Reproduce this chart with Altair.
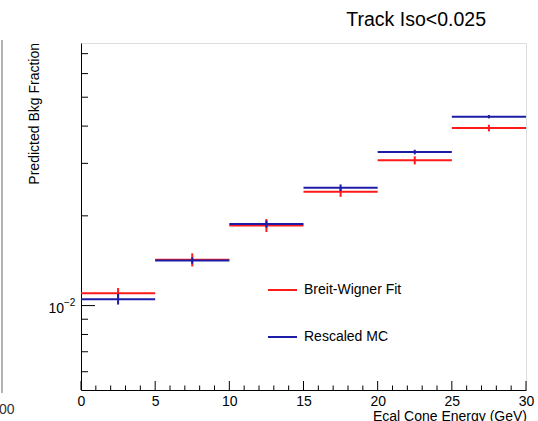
import altair as alt
import pandas as pd

# ---- data ----
bin_low = [0, 5, 10, 15, 20, 25]
bin_high = [5, 10, 15, 20, 25, 30]
bin_center = [2.5, 7.5, 12.5, 17.5, 22.5, 27.5]
bw_fit = [0.01099, 0.01425, 0.01858, 0.02409, 0.03071, 0.03941]
bw_err = [0.00046, 0.00072, 0.00093, 0.00094, 0.00096, 0.00101]
mc_val = [0.01051, 0.01416, 0.01877, 0.02485, 0.03274, 0.04301]
mc_err = [0.00043, 0.00035, 0.00051, 0.00064, 0.00058, 0.00056]
series_names = ["Breit-Wigner Fit", "Rescaled MC"]
series_colors = ["#ff1a1a", "#1c1ca6"]

x_major = [0, 5, 10, 15, 20, 25, 30]
x_minor = [1, 2, 3, 4, 6, 7, 8, 9, 11, 12, 13, 14, 16, 17, 18, 19,
           21, 22, 23, 24, 26, 27, 28, 29]
y_major = [0.01]
y_minor = [0.006, 0.007, 0.008, 0.009, 0.02, 0.03, 0.04, 0.05, 0.06, 0.07]
y_label_base = "10"
y_label_exp = "−2"
title_text = "Track Iso<0.025"
x_title = "Ecal Cone Energy (GeV)"
y_title = "Predicted Bkg Fraction"

W, H = 445, 347
FONT = "Liberation Sans"

x_scale = alt.Scale(domain=[0, 30], nice=False, zero=False)
y_scale = alt.Scale(type="log", domain=[0.00521, 0.0760], nice=False)
x_axis = alt.Axis(values=x_major, ticks=False, grid=False, title=None,
                  labelFontSize=14, labelFont=FONT, labelColor="black",
                  labelPadding=4, domainColor="black", labelFlush=False,
                  labelOverlap=False)
y_axis = alt.Axis(values=y_major, ticks=False, grid=False, title=None,
                  labels=False, domainColor="black")


def series_df(vals, errs, name):
    return pd.DataFrame({
        "lo": bin_low, "hi": bin_high, "c": bin_center,
        "v": vals, "vlo": [v - e for v, e in zip(vals, errs)],
        "vhi": [v + e for v, e in zip(vals, errs)], "s": name,
    })


layers = []
for vals, errs, name, col in [(bw_fit, bw_err, series_names[0], series_colors[0]),
                              (mc_val, mc_err, series_names[1], series_colors[1])]:
    d = series_df(vals, errs, name)
    base = alt.Chart(d)
    layers.append(base.mark_rule(color=col, strokeWidth=2).encode(
        x=alt.X("lo:Q", scale=x_scale, axis=x_axis), x2="hi:Q",
        y=alt.Y("v:Q", scale=y_scale, axis=y_axis)))
    layers.append(base.mark_rule(color=col, strokeWidth=2).encode(
        x=alt.X("c:Q", scale=x_scale, axis=x_axis),
        y=alt.Y("vlo:Q", scale=y_scale, axis=y_axis), y2="vhi:Q"))

# inward ticks (ROOT style)
xmaj = alt.Chart(pd.DataFrame({"t": x_major})).mark_rule(color="black").encode(
    x=alt.X("t:Q", scale=x_scale, axis=x_axis), y=alt.value(H), y2=alt.value(H - 9))
xmin = alt.Chart(pd.DataFrame({"t": x_minor})).mark_rule(color="black").encode(
    x=alt.X("t:Q", scale=x_scale, axis=x_axis), y=alt.value(H), y2=alt.value(H - 4.5))
ymaj_df = pd.DataFrame({"t": y_major})
ymaj = alt.Chart(ymaj_df).mark_rule(color="black").encode(
    y=alt.Y("t:Q", scale=y_scale, axis=y_axis), x=alt.value(0), x2=alt.value(14))
ymin = alt.Chart(pd.DataFrame({"t": y_minor})).mark_rule(color="black").encode(
    y=alt.Y("t:Q", scale=y_scale, axis=y_axis), x=alt.value(0), x2=alt.value(7))

# y tick label "10^-2" with a real superscript
ylab_base = alt.Chart(ymaj_df).mark_text(
    text=y_label_base, align="right", baseline="middle", font=FONT, fontSize=14,
    color="black", dy=3).encode(
    y=alt.Y("t:Q", scale=y_scale, axis=y_axis), x=alt.value(-17))
ylab_exp = alt.Chart(ymaj_df).mark_text(
    text=y_label_exp, align="left", baseline="middle", font=FONT, fontSize=10,
    color="black", dy=-3).encode(
    y=alt.Y("t:Q", scale=y_scale, axis=y_axis), x=alt.value(-17))

one = pd.DataFrame({"k": [0]})

# legend entries
legend = []
for i, (name, col) in enumerate(zip(series_names, series_colors)):
    yy = 247 + i * 47
    legend.append(alt.Chart(one).mark_rule(color=col, strokeWidth=2).encode(
        x=alt.value(187), x2=alt.value(216), y=alt.value(yy)))
    legend.append(alt.Chart(one).mark_text(
        text=name, align="left", baseline="middle", font=FONT, fontSize=14,
        color="black").encode(x=alt.value(223), y=alt.value(yy)))

texts = [
    alt.Chart(one).mark_text(text=title_text, align="right", baseline="alphabetic",
                             font=FONT, fontSize=19.5, color="black").encode(
        x=alt.value(405), y=alt.value(-17)),
    alt.Chart(one).mark_text(text=x_title, align="right", baseline="alphabetic",
                             font=FONT, fontSize=14, color="black").encode(
        x=alt.value(W + 1), y=alt.value(378)),
    alt.Chart(one).mark_text(text=y_title, align="right", baseline="middle",
                             angle=270, font=FONT, fontSize=14, color="black").encode(
        x=alt.value(-46), y=alt.value(0)),
    # fragment of neighbouring pad at the left edge
    alt.Chart(one).mark_rule(color="#666666").encode(
        x=alt.value(-79), y=alt.value(-3), y2=alt.value(350)),
    alt.Chart(one).mark_text(text="00", align="left", baseline="alphabetic",
                             font=FONT, fontSize=14, color="#333333").encode(
        x=alt.value(-82), y=alt.value(371)),
]

chart = alt.layer(*layers, xmaj, xmin, ymaj, ymin, ylab_base, ylab_exp,
                  *legend, *texts).properties(
    width=W, height=H,
    padding={"left": 81, "top": 43, "right": 12, "bottom": 31},
    autosize=alt.AutoSizeParams(type="none"),
).configure_view(stroke="black", strokeWidth=1).configure(background="white")

chart.save("out.html", embed_options={"renderer": "svg", "actions": False})
